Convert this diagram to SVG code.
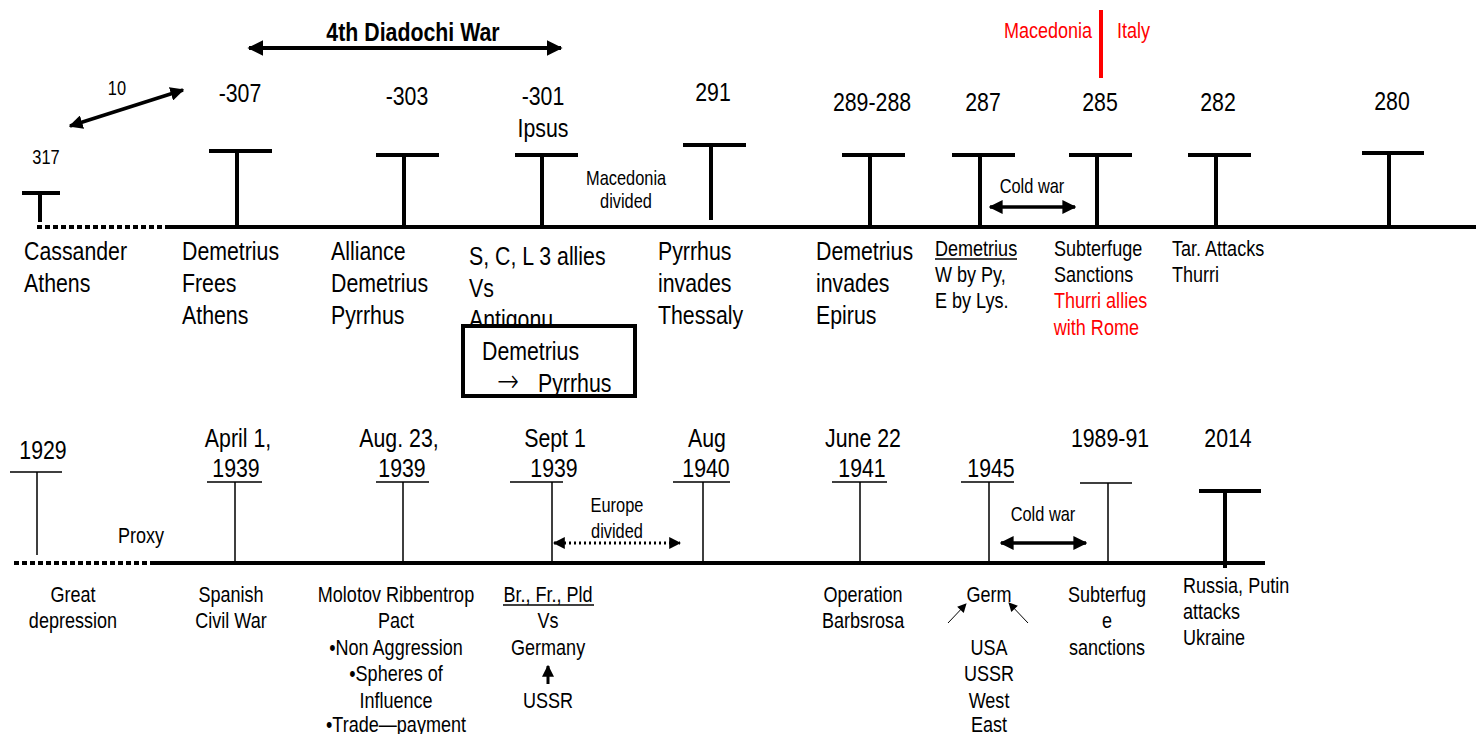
<svg xmlns="http://www.w3.org/2000/svg" width="1476" height="734" viewBox="0 0 1476 734">
<defs>
<style>
text{font-family:"Liberation Sans Narrow","Liberation Sans",Arial,sans-serif;fill:#000;transform-box:fill-box;transform-origin:left center;transform:scaleX(0.82)}
.big{font-size:26px}
.mid{font-size:22px}
.sm{font-size:20px}
.ttl{font-size:26px;font-weight:bold}
.c{text-anchor:middle;transform-origin:center center}
.r{text-anchor:end;transform-origin:right center}
.red{fill:#f00}
.thick{stroke:#000;stroke-width:4;fill:none}
.thin{stroke:#000;stroke-width:1.5;fill:none}
</style>
<marker id="ah" viewBox="0 0 10 10" refX="9" refY="5" markerWidth="4" markerHeight="4" orient="auto-start-reverse" markerUnits="strokeWidth"><path d="M0,0L10,5L0,10z" fill="#000"/></marker>
<marker id="ahs" viewBox="0 0 10 10" refX="9" refY="5" markerWidth="11" markerHeight="9" orient="auto-start-reverse" markerUnits="strokeWidth"><path d="M0,0L10,5L0,10z" fill="#000"/></marker>
</defs>
<rect width="1476" height="734" fill="#fff"/>

<!-- TOP TIMELINE -->
<g id="top-axis">
<line x1="37" y1="227" x2="168" y2="227" stroke="#000" stroke-width="4" stroke-dasharray="5,3"/>
<line x1="168" y1="227" x2="1476" y2="227" class="thick"/>
</g>
<g id="title"><text x="413" y="41" class="ttl c">4th Diadochi War</text></g>
<g id="lbl-10"><text x="117" y="95" class="sm c">10</text></g>
<g id="n317">
<text x="46" y="164" class="sm c">317</text>
<path d="M22,193H60M40,193V222" class="thick"/>
<text x="24" y="260" class="big">Cassander</text>
<text x="24" y="292" class="big">Athens</text>
</g>
<g id="n307">
<text x="240" y="102" class="big c">-307</text>
<path d="M209,151H272M237,151V227" class="thick"/>
<text x="182" y="260" class="big">Demetrius</text>
<text x="182" y="292" class="big">Frees</text>
<text x="182" y="324" class="big">Athens</text>
</g>
<g id="n303">
<text x="407" y="105" class="big c">-303</text>
<path d="M376,155H439M404,155V227" class="thick"/>
<text x="331" y="260" class="big">Alliance</text>
<text x="331" y="292" class="big">Demetrius</text>
<text x="331" y="324" class="big">Pyrrhus</text>
</g>
<g id="n301">
<text x="543" y="105" class="big c">-301</text>
<text x="543" y="137" class="big c">Ipsus</text>
<path d="M515,155H578M542,155V227" class="thick"/>
<text x="469" y="265" class="big">S, C, L 3 allies</text>
<text x="469" y="297" class="big">Vs</text>
<text x="469" y="328" class="big">Antigonu</text>
</g>
<g id="box-demetrius">
<rect x="463" y="326" width="172" height="70" fill="#fff" stroke="#000" stroke-width="4"/>
<text x="482" y="360" class="big">Demetrius</text>
<text x="497" y="392" style="font-family:'DejaVu Sans',sans-serif;font-size:32px;font-weight:200">→</text>
<text x="538" y="392" class="big">Pyrrhus</text>
</g>
<g id="mac-divided">
<text x="626" y="185" class="sm c">Macedonia</text>
<text x="626" y="208" class="sm c">divided</text>
</g>
<g id="n291">
<text x="713" y="101" class="big c">291</text>
<path d="M683,145H746M711,145V220" class="thick"/>
<text x="658" y="260" class="big">Pyrrhus</text>
<text x="658" y="292" class="big">invades</text>
<text x="658" y="324" class="big">Thessaly</text>
</g>
<g id="n289">
<text x="872" y="111" class="big c">289-288</text>
<path d="M842,155H905M870,155V227" class="thick"/>
<text x="816" y="260" class="big">Demetrius</text>
<text x="816" y="292" class="big">invades</text>
<text x="816" y="324" class="big">Epirus</text>
</g>
<g id="n287">
<text x="983" y="111" class="big c">287</text>
<path d="M952,155H1015M980,155V227" class="thick"/>
<text x="935" y="256" class="mid">Demetrius</text>
<line x1="935" y1="259" x2="1017" y2="259" stroke="#000" stroke-width="1.5"/>
<text x="935" y="282" class="mid">W by Py,</text>
<text x="935" y="308" class="mid">E by Lys.</text>
</g>
<g id="cold-top"><text x="1032" y="193" class="sm c">Cold war</text></g>
<g id="n285">
<text x="1100" y="111" class="big c">285</text>
<path d="M1069,155H1132M1097,155V227" class="thick"/>
<text x="1054" y="256" class="mid">Subterfuge</text>
<text x="1054" y="282" class="mid">Sanctions</text>
<text x="1054" y="308" class="mid red">Thurri allies</text>
<text x="1054" y="335" class="mid red">with Rome</text>
</g>
<g id="divider">
<line x1="1101" y1="10" x2="1101" y2="78" stroke="#f00" stroke-width="4"/>
<text x="1092" y="38" class="mid r red">Macedonia</text>
<text x="1117" y="38" class="mid red">Italy</text>
</g>
<g id="n282">
<text x="1218" y="111" class="big c">282</text>
<path d="M1188,155H1251M1216,155V227" class="thick"/>
<text x="1172" y="256" class="mid">Tar. Attacks</text>
<text x="1172" y="282" class="mid">Thurri</text>
</g>
<g id="n280">
<text x="1392" y="110" class="big c">280</text>
<path d="M1362,153H1424M1389,153V227" class="thick"/>
</g>

<!-- BOTTOM TIMELINE -->
<g id="bottom-axis">
<line x1="14" y1="563" x2="153" y2="563" stroke="#000" stroke-width="4" stroke-dasharray="5,3"/>
<line x1="153" y1="563" x2="1265" y2="563" class="thick"/>
</g>
<g id="n1929">
<text x="43" y="459" class="big c">1929</text>
<path d="M10,472H62M37,472V555" class="thin"/>
<text x="73" y="602" class="mid c">Great</text>
<text x="73" y="628" class="mid c">depression</text>
</g>
<g id="proxy"><text x="141" y="543" class="mid c">Proxy</text></g>
<g id="n1939a">
<text x="238" y="447" class="big c">April 1,</text>
<text x="236" y="477" class="big c">1939</text>
<path d="M207,482H262M235,482V563" class="thin"/>
<text x="231" y="602" class="mid c">Spanish</text>
<text x="231" y="628" class="mid c">Civil War</text>
</g>
<g id="n1939b">
<text x="399" y="447" class="big c">Aug. 23,</text>
<text x="402" y="477" class="big c">1939</text>
<path d="M376,482H429M403,482V563" class="thin"/>
<text x="396" y="602" class="mid c">Molotov Ribbentrop</text>
<text x="396" y="628" class="mid c">Pact</text>
<text x="396" y="655" class="mid c">•Non Aggression</text>
<text x="396" y="681" class="mid c">•Spheres of</text>
<text x="396" y="708" class="mid c">Influence</text>
<text x="396" y="732" class="mid c">•Trade—payment</text>
</g>
<g id="n1939c">
<text x="555" y="447" class="big c">Sept 1</text>
<text x="554" y="477" class="big c">1939</text>
<path d="M510,482H563M552,482V563" class="thin"/>
<text x="548" y="602" class="mid c">Br., Fr., Pld</text>
<line x1="503" y1="605" x2="594" y2="605" stroke="#000" stroke-width="1.5"/>
<text x="548" y="628" class="mid c">Vs</text>
<text x="548" y="655" class="mid c">Germany</text>
<text x="548" y="708" class="mid c">USSR</text>
</g>
<g id="n1940">
<text x="707" y="447" class="big c">Aug</text>
<text x="706" y="477" class="big c">1940</text>
<path d="M673,482H730M703,482V563" class="thin"/>
</g>
<g id="europe-divided">
<text x="617" y="512" class="sm c">Europe</text>
<text x="617" y="538" class="sm c">divided</text>
</g>
<g id="n1941">
<text x="863" y="447" class="big c">June 22</text>
<text x="862" y="477" class="big c">1941</text>
<path d="M832,482H887M860,482V563" class="thin"/>
<text x="863" y="602" class="mid c">Operation</text>
<text x="863" y="628" class="mid c">Barbsrosa</text>
</g>
<g id="n1945">
<text x="991" y="477" class="big c">1945</text>
<path d="M961,482H1014M989,482V563" class="thin"/>
<text x="989" y="602" class="mid c">Germ</text>
<text x="989" y="655" class="mid c">USA</text>
<text x="989" y="681" class="mid c">USSR</text>
<text x="989" y="708" class="mid c">West</text>
<text x="989" y="732" class="mid c">East</text>
</g>
<g id="cold-bottom"><text x="1043" y="521" class="sm c">Cold war</text></g>
<g id="n1989">
<text x="1110" y="447" class="big c">1989-91</text>
<path d="M1080,483H1132M1108,483V563" class="thin"/>
<text x="1107" y="602" class="mid c">Subterfug</text>
<text x="1107" y="628" class="mid c">e</text>
<text x="1107" y="655" class="mid c">sanctions</text>
</g>
<g id="n2014">
<text x="1228" y="447" class="big c">2014</text>
<path d="M1199,491H1261M1225,491V568" class="thick"/>
<text x="1183" y="593" class="mid">Russia, Putin</text>
<text x="1183" y="619" class="mid">attacks</text>
<text x="1183" y="645" class="mid">Ukraine</text>
</g>

<!-- CONNECTORS -->
<g id="connectors">
<line x1="249" y1="48" x2="561" y2="48" class="thick" marker-start="url(#ah)" marker-end="url(#ah)"/>
<line x1="70" y1="126" x2="183" y2="90" stroke="#000" stroke-width="3.5" marker-start="url(#ah)" marker-end="url(#ah)"/>
<line x1="990" y1="207" x2="1075" y2="207" stroke="#000" stroke-width="3.5" marker-start="url(#ah)" marker-end="url(#ah)"/>
<line x1="554" y1="543" x2="680" y2="543" stroke="#000" stroke-width="3" stroke-dasharray="2,3" marker-start="url(#ah)" marker-end="url(#ah)"/>
<line x1="1001" y1="543" x2="1086" y2="543" stroke="#000" stroke-width="3.5" marker-start="url(#ah)" marker-end="url(#ah)"/>
<line x1="548" y1="684" x2="548" y2="666" stroke="#000" stroke-width="3" marker-end="url(#ah)"/>
<line x1="948" y1="623" x2="966" y2="604" stroke="#000" stroke-width="1" marker-end="url(#ahs)"/>
<line x1="1028" y1="623" x2="1009" y2="603" stroke="#000" stroke-width="1" marker-end="url(#ahs)"/>
</g>
</svg>
